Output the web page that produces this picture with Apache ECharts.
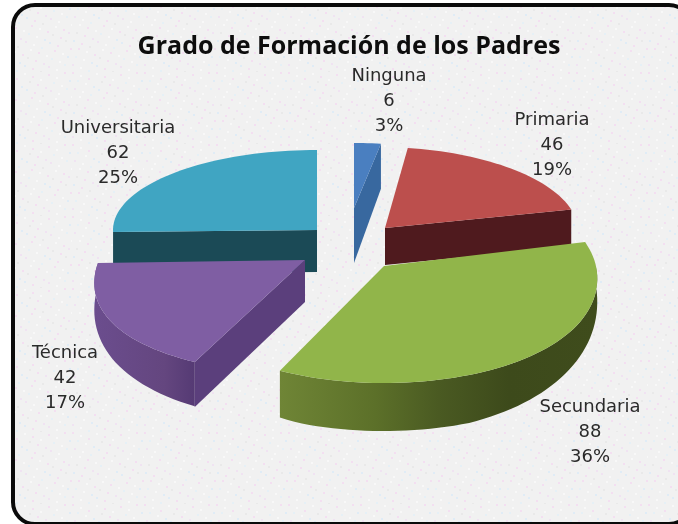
<!DOCTYPE html>
<html><head><meta charset="utf-8">
<style>html,body{margin:0;padding:0;background:#fff}#c{width:678px;height:524px}</style>
<script src="https://cdn.jsdelivr.net/npm/echarts@6/dist/echarts.min.js"></script>
</head><body><div id="c"></div>
<script>
const categories = ['Ninguna','Primaria','Secundaria','Técnica','Universitaria'];
const values = [6,46,88,42,62];
const percents = ['3%','19%','36%','17%','25%'];
const titleText = 'Grado de Formación de los Padres';

// Per-slice layout: exploded apex, radii, wall height, colours
const layout = [
 {cx:354,cy:208,rx:175,ryB:65,ryF:65,q:0,shear:0,top:'#4a7fc0',face:'#38689f',endFace:[55,45],lx:389,ly:101},
 {cx:385,cy:228,rx:193,ryB:81,ryF:81,q:0,shear:7,top:'#bc4f4d',face:'#4f1a1e',endFace:[37,37],lx:552,ly:145},
 {cx:384,cy:266,rx:212,ryB:104,ryF:117,q:.11,shear:0,top:'#91b54a',rim:[20,30,48],lx:590,ly:432,
  rimFill:[[0,'#6f8536'],[.3,'#5c7029'],[.5,'#4a5a22'],[.72,'#3d4a1b'],[1,'#3f4c1c']]},
 {cx:305,cy:260,rx:206,ryB:100,ryF:114,q:.22,shear:0,top:'#7f5ea3',face:'#5b3f7c',startFace:[42,45],rim:[22,25,47],lx:65,ly:378,
  rimFill:[[0,'#6b4d8e'],[.7,'#64467f'],[1,'#553a74']]},
 {cx:317,cy:230,rx:204,ryB:80,ryF:80,q:0,shear:0,top:'#40a5c2',face:'#1b4a56',startFace:[42,42],lx:118,ly:153}
];
const drawOrder = [0,4,1,3,2];

const total = values.reduce((a,b)=>a+b,0);
const starts = []; values.reduce((acc,v,i)=>{starts[i]=acc;return acc+v;},0);

function pt(L,deg){
  const t=deg*Math.PI/180, X=Math.sin(t), Y=-Math.cos(t);
  const ry = Y<0?L.ryB:L.ryF;
  return [L.cx + L.rx*(1+L.q*Y)*X + L.shear*Y, L.cy + ry*Y, Y];
}
function rimH(L,Y){return Math.min(L.rim[2], L.rim[0]+L.rim[1]*Math.max(Y,0));}

function noisePattern(){
  const c=document.createElement('canvas'); c.width=c.height=72;
  const g=c.getContext('2d'); g.fillStyle='#f1f1f1'; g.fillRect(0,0,72,72);
  const tints=['#f3dff1','#e0ecf6','#e9e9e9','#f8f8f8','#f0e3f2','#e6f0f6'];
  for(let i=0;i<9;i++)for(let j=0;j<9;j++){
    g.fillStyle=tints[(i*3+j*5+(i*j)%3)%6];
    g.fillRect((i*8+(j*5)%8)%72,(j*8+(i*3)%8)%72,2,2);
  }
  return c;
}

const chart = echarts.init(document.getElementById('c'),null,{renderer:'canvas'});

function renderItem(params,api){
  const i = api.value(0);
  const L = layout[i];
  const a0 = api.value(1)/total*360, a1 = (api.value(1)+api.value(2))/total*360;
  const kids=[];
  const N=Math.max(6,Math.round((a1-a0)/2));
  const rimPts=[]; for(let k=0;k<=N;k++) rimPts.push(pt(L,a0+(a1-a0)*k/N));
  const apex=[L.cx,L.cy];
  const face=(p,h)=>kids.push({type:'polygon',shape:{points:[apex,[p[0],p[1]],[p[0],p[1]+h[1]],[apex[0],apex[1]+h[0]]]},style:{fill:L.face}});
  if(L.startFace) face(rimPts[0],L.startFace);
  if(L.endFace) face(rimPts[N],L.endFace);
  if(L.rim){
    const vis=rimPts.filter(p=>p[2]>=-0.02);
    const up=vis.map(p=>[p[0],p[1]]);
    const dn=vis.slice().reverse().map(p=>[p[0],p[1]+rimH(L,p[2])]);
    kids.push({type:'polygon',shape:{points:up.concat(dn)},style:{
      fill:new echarts.graphic.LinearGradient(0,0,1,0,L.rimFill.map(s=>({offset:s[0],color:s[1]})))}});
  }
  kids.push({type:'polygon',shape:{points:[apex].concat(rimPts.map(p=>[p[0],p[1]]))},style:{fill:L.top}});
  return {type:'group',children:kids};
}

function labelItem(params,api){
  const i=api.value(0), L=layout[i];
  return {type:'text',x:L.lx,y:L.ly,style:{
    text:categories[i]+'\n'+api.value(1)+'\n'+percents[i],
    x:0,y:0,align:'center',verticalAlign:'middle',
    font:'18px "DejaVu Sans"',lineHeight:25,fill:'#2a2a2a',textAlign:'center'}};
}

chart.setOption({
  animation:false,
  backgroundColor:'#ffffff',
  title:{text:titleText,left:344,top:29,textAlign:'center',
    textStyle:{fontFamily:'Open Sans',fontWeight:'bold',fontSize:25,color:'#0d0d0d'}},
  graphic:[{type:'rect',z:-1,silent:true,shape:{x:13,y:5,width:678,height:519,r:22},
    style:{fill:{type:'pattern',image:noisePattern(),repeat:'repeat'},stroke:'#0a0a0a',lineWidth:4}}],
  series:[
    {type:'custom',coordinateSystem:'none',renderItem:renderItem,silent:true,z:2,
     data:drawOrder.map(i=>[i,starts[i],values[i]])},
    {type:'custom',coordinateSystem:'none',renderItem:labelItem,silent:true,z:3,
     data:categories.map((c,i)=>[i,values[i]])}
  ]
});
</script></body></html>
